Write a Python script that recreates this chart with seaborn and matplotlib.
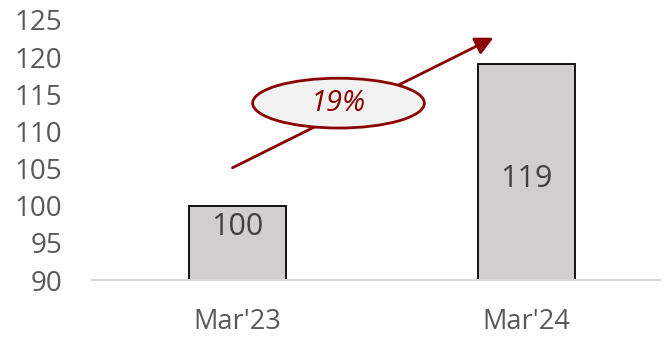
import matplotlib
matplotlib.use("Agg")
import matplotlib.pyplot as plt
import seaborn as sns
import pandas as pd
from matplotlib.patches import Ellipse

periods = ["Mar'23", "Mar'24"]
values = [100, 119]
growth_label = "19%"
label_y = [97.2, 103.6]

sns.set_theme(style="white")
plt.rcParams['font.family'] = ['Open Sans', 'DejaVu Sans']

df = pd.DataFrame({"period": periods, "value": values})

fig = plt.figure(figsize=(6.64, 3.37), dpi=100)
ax = fig.add_axes([0.139, 0.169, 0.855, 0.772])

sns.barplot(ax=ax, data=df, x="period", y="value", color="#d0cece",
            edgecolor="black", linewidth=1.3, width=0.335, saturation=1)

ax.set_ylim(90, 125)
ax.set_xlim(-0.5, 1.46)
ax.set_yticks(range(90, 126, 5))
ax.set_xlabel("")
ax.set_ylabel("")
for s in ["top", "right", "left"]:
    ax.spines[s].set_visible(False)
ax.spines["bottom"].set_color("#d9d9d9")
ax.spines["bottom"].set_linewidth(1.5)
ax.spines["bottom"].set_zorder(5)
ax.tick_params(axis="y", labelsize=20, labelcolor="#595959", length=0, pad=21.5)
ax.tick_params(axis="x", labelsize=19.5, labelcolor="#595959", length=0, pad=20)

for i, v in enumerate(values):
    ax.text(i, label_y[i], str(v), ha="center", va="center",
            fontsize=22, color="#404040")

# growth arrow and bubble
ax.annotate("", xy=(0.885, 122.6), xytext=(-0.016, 105.1),
            arrowprops=dict(arrowstyle="-|>,head_length=0.9,head_width=0.45",
                            color="#8b0000", lw=2, shrinkA=0, shrinkB=0))
ell = Ellipse((0.35, 113.8), 0.593, 6.7, facecolor="#f2f2f2",
              edgecolor="#8b0000", linewidth=2, zorder=6)
ax.add_patch(ell)
ax.text(0.35, 113.8, growth_label, ha="center", va="center", fontsize=21,
        style="italic", color="#8b0000", zorder=7)

fig.savefig("out.png", dpi=100)
